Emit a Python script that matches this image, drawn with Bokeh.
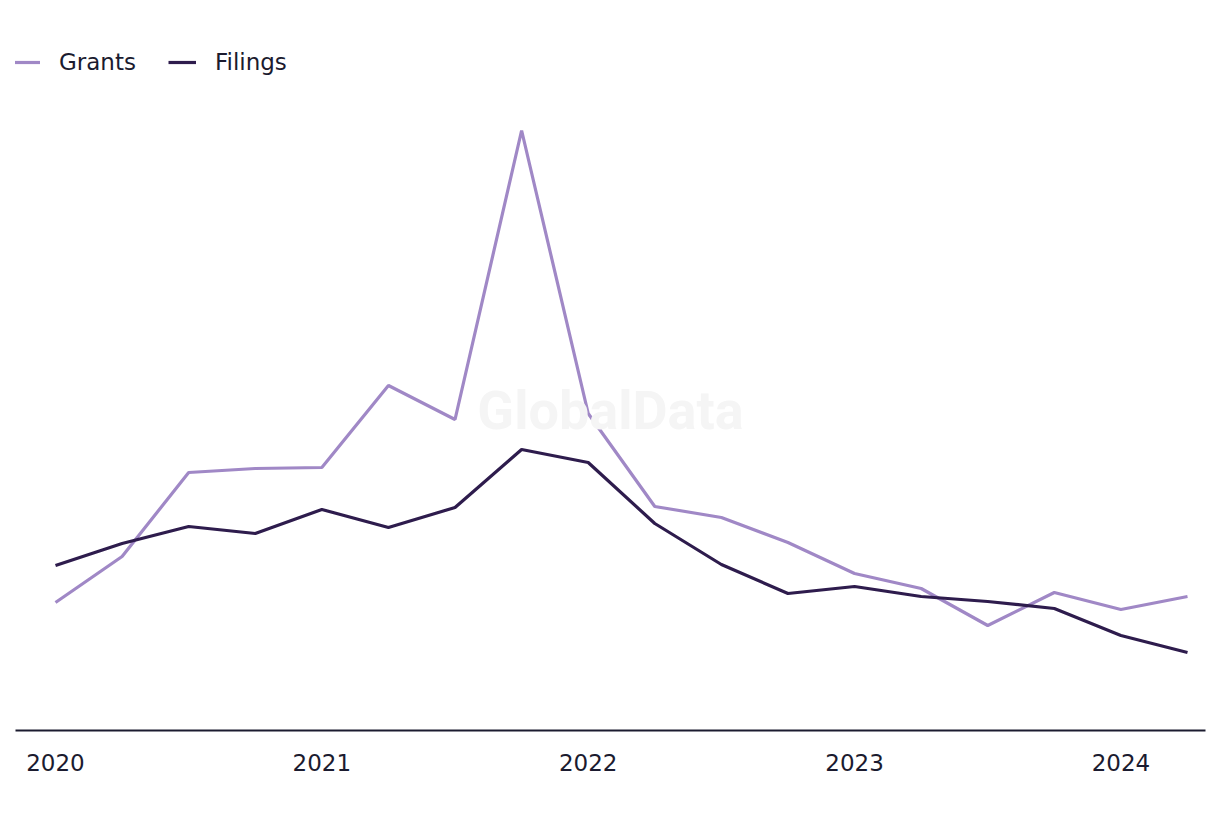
from bokeh.plotting import figure
from bokeh.models import Legend, LegendItem, Label, Range1d, FixedTicker, ColumnDataSource
from bokeh.embed import file_html
from bokeh.resources import INLINE

# Quarterly periods 2020 Q1 .. 2024 Q2
quarters = [2020.0, 2020.25, 2020.5, 2020.75,
            2021.0, 2021.25, 2021.5, 2021.75,
            2022.0, 2022.25, 2022.5, 2022.75,
            2023.0, 2023.25, 2023.5, 2023.75,
            2024.0, 2024.25]
grants = [128, 174, 258, 262, 263, 345, 311, 600,
          317, 224, 213, 188, 157, 142, 105, 138, 121, 134]
filings = [165, 187, 204, 197, 221, 203, 223, 281,
           268, 207, 166, 137, 144, 134, 129, 122, 95, 78]
tick_years = [2020, 2021, 2022, 2023, 2024]
tick_labels = {2020: "2020", 2021: "2021", 2022: "2022", 2023: "2023", 2024: "2024"}

GRANT_COLOR = "#a088c6"
FILING_COLOR = "#2e1c4d"
TEXT_COLOR = "#1b1b2f"
FONT = "DejaVu Sans"

src = ColumnDataSource(dict(x=quarters, grants=grants, filings=filings))

px_per_year = (1187 - 55) / 4.25
x_start = 2020 - (55 - 15) / px_per_year
x_end = 2024.25 + (1205 - 1187) / px_per_year

p = figure(width=1212, height=808, output_backend="svg", toolbar_location=None,
           x_range=Range1d(x_start, x_end), y_range=Range1d(0, 694),
           min_border_left=15, min_border_right=7, min_border_top=36, min_border_bottom=78)

p.outline_line_color = None
p.xgrid.grid_line_color = None
p.ygrid.grid_line_color = None
p.yaxis.visible = False
p.background_fill_color = "white"
p.border_fill_color = "white"

xa = p.xaxis[0]
xa.ticker = FixedTicker(ticks=tick_years)
xa.major_label_overrides = tick_labels
xa.axis_line_color = TEXT_COLOR
xa.axis_line_width = 2
xa.major_tick_line_color = None
xa.minor_tick_line_color = None
xa.major_label_text_font = FONT
xa.major_label_text_font_size = "23px"
xa.major_label_text_color = TEXT_COLOR
xa.major_label_standoff = 17

wm = Label(x=2020 + (610 - 55) / px_per_year, y=730 - 410, text="GlobalData",
           text_align="center", text_baseline="middle",
           text_font="Roboto", text_font_style="bold", text_font_size="54px",
           text_color="#f5f5f5")
p.add_layout(wm)

r_g = p.line("x", "grants", source=src, line_color=GRANT_COLOR, line_width=3.2)
r_f = p.line("x", "filings", source=src, line_color=FILING_COLOR, line_width=3.2)

legend = Legend(items=[LegendItem(label="Grants", renderers=[r_g]),
                       LegendItem(label="Filings", renderers=[r_f])],
                orientation="horizontal", location=(-3, 654))
legend.margin = 0
legend.padding = 0
legend.spacing = 32
legend.glyph_width = 28
legend.glyph_height = 28
legend.label_standoff = 19
legend.label_text_font = FONT
legend.label_text_font_size = "23px"
legend.label_text_color = TEXT_COLOR
legend.label_height = 28
legend.background_fill_alpha = 0
legend.border_line_color = None
p.add_layout(legend)

open("out.html", "w").write(file_html(p, INLINE))
